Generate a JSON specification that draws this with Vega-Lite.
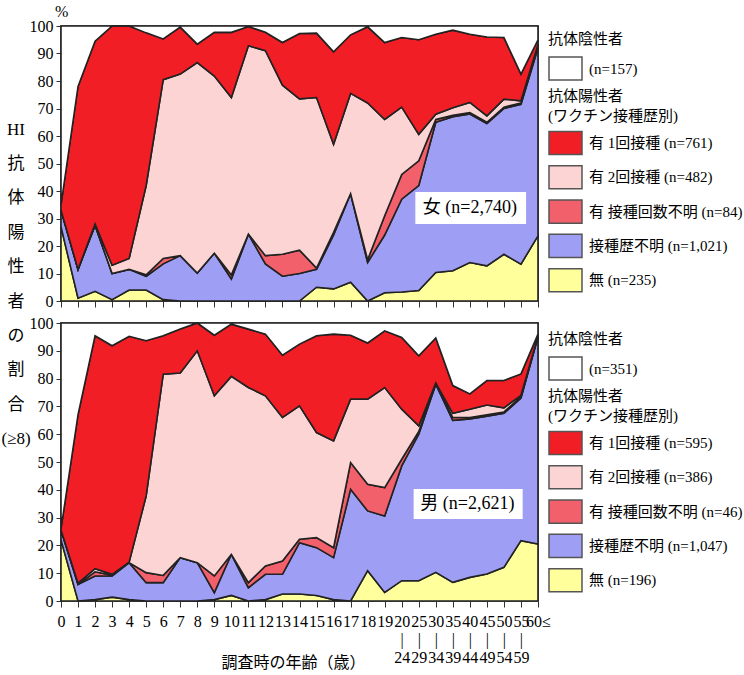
{
  "$schema": "https://vega.github.io/schema/vega-lite/v6.json",
  "autosize": {"type": "pad"},
  "padding": {"left": 0, "top": 3, "right": 0, "bottom": 0},
  "bounds": "flush",
  "spacing": 22,
  "config": {
    "font": "'Liberation Serif', 'Noto Sans CJK JP', serif",
    "view": {"stroke": "#333", "strokeWidth": 1.5},
    "axis": {"labelFont": "'Liberation Serif', 'Noto Sans CJK JP', serif", "titleFont": "'Liberation Serif', 'Noto Sans CJK JP', serif", "labelColor": "#000", "titleColor": "#000", "tickColor": "#333", "grid": false, "domain": false, "titleFontWeight": "normal", "labelFontSize": 16, "labelOverlap": false, "labelFlush": false, "labelBound": false},
    "legend": {"labelFont": "'Liberation Serif', 'Noto Sans CJK JP', serif", "titleFont": "'Liberation Serif', 'Noto Sans CJK JP', serif", "labelColor": "#000", "titleColor": "#000"},
    "title": {"font": "'Liberation Serif', 'Noto Sans CJK JP', serif", "fontWeight": "normal", "color": "#000"}
  },
  "resolve": {"scale": {"color": "independent", "fill": "independent"}, "legend": {"color": "independent", "fill": "independent"}},
  "datasets": {
    "hi": [
      {"s":"F","i":0,"k1_none":27,"k2_unk":6,"k3_vu":0,"k4_v2":0,"k5_v1":2,"k6_neg":65},
      {"s":"F","i":1,"k1_none":1,"k2_unk":10.5,"k3_vu":0,"k4_v2":0,"k5_v1":66.5,"k6_neg":22},
      {"s":"F","i":2,"k1_none":3.5,"k2_unk":24,"k3_vu":0,"k4_v2":0.5,"k5_v1":66.5,"k6_neg":5.5},
      {"s":"F","i":3,"k1_none":0.5,"k2_unk":9.5,"k3_vu":0,"k4_v2":3,"k5_v1":87,"k6_neg":0},
      {"s":"F","i":4,"k1_none":4,"k2_unk":7.5,"k3_vu":0,"k4_v2":4,"k5_v1":84.5,"k6_neg":0},
      {"s":"F","i":5,"k1_none":4,"k2_unk":5,"k3_vu":0.5,"k4_v2":32.5,"k5_v1":55.5,"k6_neg":2.5},
      {"s":"F","i":6,"k1_none":0.5,"k2_unk":13,"k3_vu":2,"k4_v2":65,"k5_v1":14.8,"k6_neg":4.7},
      {"s":"F","i":7,"k1_none":0,"k2_unk":16.5,"k3_vu":0,"k4_v2":66,"k5_v1":17.1,"k6_neg":0.4},
      {"s":"F","i":8,"k1_none":0,"k2_unk":10.2,"k3_vu":0,"k4_v2":76.5,"k5_v1":6.7,"k6_neg":6.6},
      {"s":"F","i":9,"k1_none":0,"k2_unk":17.4,"k3_vu":0,"k4_v2":64.4,"k5_v1":15.9,"k6_neg":2.3},
      {"s":"F","i":10,"k1_none":0,"k2_unk":8,"k3_vu":1.5,"k4_v2":64.5,"k5_v1":23.7,"k6_neg":2.3},
      {"s":"F","i":11,"k1_none":0,"k2_unk":24.3,"k3_vu":0,"k4_v2":68.5,"k5_v1":7,"k6_neg":0.2},
      {"s":"F","i":12,"k1_none":0,"k2_unk":13.5,"k3_vu":3,"k4_v2":74.5,"k5_v1":6.7,"k6_neg":2.3},
      {"s":"F","i":13,"k1_none":0,"k2_unk":9,"k3_vu":8,"k4_v2":61.5,"k5_v1":15.5,"k6_neg":6},
      {"s":"F","i":14,"k1_none":0,"k2_unk":10,"k3_vu":8.5,"k4_v2":55,"k5_v1":23.8,"k6_neg":2.7},
      {"s":"F","i":15,"k1_none":5,"k2_unk":6.5,"k3_vu":0.5,"k4_v2":62,"k5_v1":23.4,"k6_neg":2.6},
      {"s":"F","i":16,"k1_none":4.4,"k2_unk":19.6,"k3_vu":1,"k4_v2":32,"k5_v1":33.6,"k6_neg":9.4},
      {"s":"F","i":17,"k1_none":6.8,"k2_unk":32.2,"k3_vu":0,"k4_v2":36.5,"k5_v1":21.3,"k6_neg":3.2},
      {"s":"F","i":18,"k1_none":0,"k2_unk":14,"k3_vu":1,"k4_v2":57,"k5_v1":27.7,"k6_neg":0.3},
      {"s":"F","i":19,"k1_none":3,"k2_unk":21,"k3_vu":7,"k4_v2":35,"k5_v1":28,"k6_neg":6},
      {"s":"F","i":20,"k1_none":3.3,"k2_unk":33.7,"k3_vu":9,"k4_v2":24.5,"k5_v1":25.3,"k6_neg":4.2},
      {"s":"F","i":21,"k1_none":3.8,"k2_unk":38.2,"k3_vu":9,"k4_v2":9.6,"k5_v1":34.4,"k6_neg":5},
      {"s":"F","i":22,"k1_none":10.4,"k2_unk":54.6,"k3_vu":1,"k4_v2":1.9,"k5_v1":29.1,"k6_neg":3},
      {"s":"F","i":23,"k1_none":11,"k2_unk":56,"k3_vu":0.5,"k4_v2":2.8,"k5_v1":28.2,"k6_neg":1.5},
      {"s":"F","i":24,"k1_none":14,"k2_unk":54,"k3_vu":0.5,"k4_v2":3.7,"k5_v1":24.8,"k6_neg":3},
      {"s":"F","i":25,"k1_none":12.8,"k2_unk":51.7,"k3_vu":0.5,"k4_v2":2.3,"k5_v1":28.7,"k6_neg":4},
      {"s":"F","i":26,"k1_none":17,"k2_unk":53,"k3_vu":0.5,"k4_v2":2.9,"k5_v1":22.4,"k6_neg":4.2},
      {"s":"F","i":27,"k1_none":13.4,"k2_unk":58.1,"k3_vu":0.5,"k4_v2":0.8,"k5_v1":9.7,"k6_neg":17.5},
      {"s":"F","i":28,"k1_none":23.7,"k2_unk":68.3,"k3_vu":0.5,"k4_v2":0.8,"k5_v1":1.7,"k6_neg":5},
      {"s":"M","i":0,"k1_none":22,"k2_unk":3.5,"k3_vu":0,"k4_v2":0,"k5_v1":0.5,"k6_neg":74},
      {"s":"M","i":1,"k1_none":0,"k2_unk":6,"k3_vu":0,"k4_v2":0.4,"k5_v1":60.6,"k6_neg":33},
      {"s":"M","i":2,"k1_none":0.5,"k2_unk":8.5,"k3_vu":1.5,"k4_v2":1.1,"k5_v1":83.8,"k6_neg":4.6},
      {"s":"M","i":3,"k1_none":1.4,"k2_unk":7.6,"k3_vu":0.3,"k4_v2":0.3,"k5_v1":82.2,"k6_neg":8.2},
      {"s":"M","i":4,"k1_none":0.5,"k2_unk":13.3,"k3_vu":0,"k4_v2":0.2,"k5_v1":81.2,"k6_neg":4.8},
      {"s":"M","i":5,"k1_none":0,"k2_unk":6.6,"k3_vu":3.6,"k4_v2":27.6,"k5_v1":55.8,"k6_neg":6.4},
      {"s":"M","i":6,"k1_none":0,"k2_unk":6.6,"k3_vu":2.6,"k4_v2":72.4,"k5_v1":13.8,"k6_neg":4.6},
      {"s":"M","i":7,"k1_none":0,"k2_unk":15.6,"k3_vu":0,"k4_v2":66.4,"k5_v1":15.8,"k6_neg":2.2},
      {"s":"M","i":8,"k1_none":0,"k2_unk":13.8,"k3_vu":0,"k4_v2":76.2,"k5_v1":10,"k6_neg":0},
      {"s":"M","i":9,"k1_none":0.5,"k2_unk":2.5,"k3_vu":6,"k4_v2":64.8,"k5_v1":21.8,"k6_neg":4.4},
      {"s":"M","i":10,"k1_none":2,"k2_unk":14.8,"k3_vu":0,"k4_v2":64,"k5_v1":18.8,"k6_neg":0.4},
      {"s":"M","i":11,"k1_none":0,"k2_unk":4.8,"k3_vu":1.8,"k4_v2":70.2,"k5_v1":21,"k6_neg":2.2},
      {"s":"M","i":12,"k1_none":0.5,"k2_unk":9.1,"k3_vu":3,"k4_v2":61.2,"k5_v1":22.2,"k6_neg":4},
      {"s":"M","i":13,"k1_none":2.5,"k2_unk":7.1,"k3_vu":4.8,"k4_v2":51.6,"k5_v1":22.4,"k6_neg":11.6},
      {"s":"M","i":14,"k1_none":2.5,"k2_unk":18.5,"k3_vu":1.2,"k4_v2":48,"k5_v1":22.2,"k6_neg":7.6},
      {"s":"M","i":15,"k1_none":2,"k2_unk":17.2,"k3_vu":3.6,"k4_v2":37.8,"k5_v1":34.8,"k6_neg":4.6},
      {"s":"M","i":16,"k1_none":0.5,"k2_unk":15.1,"k3_vu":3.6,"k4_v2":38.4,"k5_v1":38.4,"k6_neg":4},
      {"s":"M","i":17,"k1_none":0,"k2_unk":40.2,"k3_vu":9.6,"k4_v2":22.8,"k5_v1":23,"k6_neg":4.4},
      {"s":"M","i":18,"k1_none":10.9,"k2_unk":21.5,"k3_vu":9.6,"k4_v2":30.6,"k5_v1":20.2,"k6_neg":7.2},
      {"s":"M","i":19,"k1_none":3.1,"k2_unk":27.5,"k3_vu":10.2,"k4_v2":36,"k5_v1":20.4,"k6_neg":2.8},
      {"s":"M","i":20,"k1_none":7.3,"k2_unk":41.3,"k3_vu":2.4,"k4_v2":18,"k5_v1":25.8,"k6_neg":5.2},
      {"s":"M","i":21,"k1_none":7.3,"k2_unk":52.7,"k3_vu":1,"k4_v2":2,"k5_v1":25.2,"k6_neg":11.8},
      {"s":"M","i":22,"k1_none":10.3,"k2_unk":67.7,"k3_vu":0,"k4_v2":0.5,"k5_v1":16.1,"k6_neg":5.4},
      {"s":"M","i":23,"k1_none":6.7,"k2_unk":58.3,"k3_vu":1,"k4_v2":1.5,"k5_v1":10,"k6_neg":22.5},
      {"s":"M","i":24,"k1_none":8.5,"k2_unk":57,"k3_vu":0.5,"k4_v2":3,"k5_v1":5.5,"k6_neg":25.5},
      {"s":"M","i":25,"k1_none":9.7,"k2_unk":56.8,"k3_vu":0.5,"k4_v2":3.5,"k5_v1":8.8,"k6_neg":20.7},
      {"s":"M","i":26,"k1_none":12.1,"k2_unk":55.4,"k3_vu":0.5,"k4_v2":1.5,"k5_v1":9.8,"k6_neg":20.7},
      {"s":"M","i":27,"k1_none":21.7,"k2_unk":51.3,"k3_vu":0.5,"k4_v2":0.5,"k5_v1":7.7,"k6_neg":18.3},
      {"s":"M","i":28,"k1_none":20.5,"k2_unk":74.5,"k3_vu":0,"k4_v2":0.2,"k5_v1":0.8,"k6_neg":4}
    ]
  },
  "vconcat": [
    {
      "width": 477,
      "height": 275,
      "title": {"text": "%", "anchor": "start", "frame": "group", "dx": -6, "offset": -2, "fontSize": 16},
      "layer": [
        {
          "data": {"name": "hi"},
          "transform": [
            {"filter": "datum.s === 'F'"},
            {"fold": ["k1_none", "k2_unk", "k3_vu", "k4_v2", "k5_v1", "k6_neg"], "as": ["key", "value"]}
          ],
          "mark": {"type": "area", "stroke": "#222", "strokeWidth": 1.6, "opacity": 1},
          "encoding": {
            "x": {"field": "i", "type": "quantitative", "scale": {"domain": [0, 28], "nice": false, "zero": false},
                  "axis": {"values": [0,1,2,3,4,5,6,7,8,9,10,11,12,13,14,15,16,17,18,19,20,21,22,23,24,25,26,27,28], "labels": false, "labelOverlap": false, "title": null, "tickSize": 6}},
            "y": {"field": "value", "type": "quantitative", "stack": "zero", "scale": {"domain": [0, 100], "nice": false},
                  "axis": {"values": [0,10,20,30,40,50,60,70,80,90,100], "tickSize": 5, "labelPadding": 3, "labelOverlap": false,
                           "title": ["HI", "抗", "体", "陽", "性", "者", "の", "割", "合", "(≥8)"],
                           "titleAngle": 0, "titleAlign": "center", "titleBaseline": "top", "titleX": -45.5, "titleY": 95, "titleLineHeight": 34.4, "titleFontSize": 17}},
            "fill": {"field": "key", "type": "nominal",
                      "scale": {"domain": ["k5_v1", "k4_v2", "k3_vu", "k2_unk", "k1_none", "k6_neg"],
                                "range": ["#f21e26", "#fdd4d4", "#f2606c", "#9e9ef4", "#ffff9c", "#ffffff"]},
                      "legend": {
                        "orient": "none", "legendX": 487, "legendY": 63,
                        "values": ["k5_v1", "k4_v2", "k3_vu", "k2_unk", "k1_none"],
                        "title": ["抗体陽性者", "(ワクチン接種歴別)"], "titleFontSize": 15, "titleFontWeight": "normal", "titlePadding": 2, "titleLineHeight": 19.5,
                        "labelFontSize": 15, "labelLimit": 400, "labelOffset": 6,
                        "symbolType": "M-1,-0.7H1V0.7H-1Z", "symbolSize": 1089, "symbolStrokeColor": "#555", "symbolStrokeWidth": 1.5,
                        "rowPadding": 1.3, "padding": 0,
                        "labelExpr": "datum.value == 'k5_v1' ? '有 1回接種 (n=761)' : datum.value == 'k4_v2' ? '有 2回接種 (n=482)' : datum.value == 'k3_vu' ? '有 接種回数不明 (n=84)' : datum.value == 'k2_unk' ? '接種歴不明 (n=1,021)' : ' 無 (n=235)'"
                      }},
            "order": {"field": "key", "sort": "ascending"}
          }
        },
        {
          "data": {"values": [{}]},
          "mark": {"type": "rect"},
          "encoding": {
            "x": {"datum": 20.8, "type": "quantitative", "axis": {"values": [0,1,2,3,4,5,6,7,8,9,10,11,12,13,14,15,16,17,18,19,20,21,22,23,24,25,26,27,28], "labels": false, "labelOverlap": false, "title": null, "tickSize": 6}},
            "x2": {"datum": 27.3},
            "y": {"datum": 28, "type": "quantitative",
                  "axis": {"values": [0,10,20,30,40,50,60,70,80,90,100], "tickSize": 5, "labelPadding": 3, "labelOverlap": false,
                           "title": ["HI", "抗", "体", "陽", "性", "者", "の", "割", "合", "(≥8)"],
                           "titleAngle": 0, "titleAlign": "center", "titleBaseline": "top", "titleX": -45.5, "titleY": 95, "titleLineHeight": 34.4, "titleFontSize": 17}},
            "y2": {"datum": 39.6},
            "color": {"datum": "neg", "type": "nominal",
                      "scale": {"domain": ["neg"], "range": ["#ffffff"]},
                      "legend": {
                        "orient": "none", "legendX": 487, "legendY": 6,
                        "title": "抗体陰性者", "titleFontSize": 15, "titleFontWeight": "normal", "titlePadding": 4,
                        "labelFontSize": 15, "labelLimit": 400, "labelOffset": 6,
                        "symbolType": "M-1,-0.7H1V0.7H-1Z", "symbolSize": 1089, "symbolStrokeColor": "#555", "symbolStrokeWidth": 1.5,
                        "padding": 0,
                        "labelExpr": "'(n=157)'"
                      }}
          }
        },
        {
          "data": {"values": [{}]},
          "mark": {"type": "text", "text": "女 (n=2,740)", "fontSize": 18, "color": "#000", "font": "'Liberation Serif', 'Noto Sans CJK JP', serif"},
          "encoding": {
            "x": {"datum": 24.0, "type": "quantitative", "axis": {"values": [0,1,2,3,4,5,6,7,8,9,10,11,12,13,14,15,16,17,18,19,20,21,22,23,24,25,26,27,28], "labels": false, "labelOverlap": false, "title": null, "tickSize": 6}},
            "y": {"datum": 33.8, "type": "quantitative",
                  "axis": {"values": [0,10,20,30,40,50,60,70,80,90,100], "tickSize": 5, "labelPadding": 3, "labelOverlap": false,
                           "title": ["HI", "抗", "体", "陽", "性", "者", "の", "割", "合", "(≥8)"],
                           "titleAngle": 0, "titleAlign": "center", "titleBaseline": "top", "titleX": -45.5, "titleY": 95, "titleLineHeight": 34.4, "titleFontSize": 17}}
          }
        }
      ]
    },
    {
      "width": 477,
      "height": 278,
      "layer": [
        {
          "data": {"name": "hi"},
          "transform": [
            {"filter": "datum.s === 'M'"},
            {"fold": ["k1_none", "k2_unk", "k3_vu", "k4_v2", "k5_v1", "k6_neg"], "as": ["key", "value"]}
          ],
          "mark": {"type": "area", "stroke": "#222", "strokeWidth": 1.6, "opacity": 1},
          "encoding": {
            "x": {"field": "i", "type": "quantitative", "scale": {"domain": [0, 28], "nice": false, "zero": false},
                  "axis": {"values": [0,1,2,3,4,5,6,7,8,9,10,11,12,13,14,15,16,17,18,19,20,21,22,23,24,25,26,27,28],
                           "labelExpr": "datum.value < 20 ? format(datum.value, 'd') : datum.value == 28 ? '60≤' : [['20','|','24'],['25','|','29'],['30','|','34'],['35','|','39'],['40','|','44'],['45','|','49'],['50','|','54'],['55','|','59']][datum.value - 20]",
                           "labelOverlap": false, "labelFlush": false, "labelBound": false, "labelLineHeight": 18, "labelPadding": 6,
                           "tickSize": 6,
                           "title": "調査時の年齢（歳）", "titleFontSize": 16, "titleX": 232, "titleY": 61, "titleBaseline": "middle", "titleAlign": "center"}},
            "y": {"field": "value", "type": "quantitative", "stack": "zero", "scale": {"domain": [0, 100], "nice": false},
                  "axis": {"values": [0,10,20,30,40,50,60,70,80,90,100], "tickSize": 5, "labelPadding": 3, "labelOverlap": false, "title": null}},
            "fill": {"field": "key", "type": "nominal",
                      "scale": {"domain": ["k5_v1", "k4_v2", "k3_vu", "k2_unk", "k1_none", "k6_neg"],
                                "range": ["#f21e26", "#fdd4d4", "#f2606c", "#9e9ef4", "#ffff9c", "#ffffff"]},
                      "legend": {
                        "orient": "none", "legendX": 487, "legendY": 66,
                        "values": ["k5_v1", "k4_v2", "k3_vu", "k2_unk", "k1_none"],
                        "title": ["抗体陽性者", "(ワクチン接種歴別)"], "titleFontSize": 15, "titleFontWeight": "normal", "titlePadding": 2, "titleLineHeight": 19.5,
                        "labelFontSize": 15, "labelLimit": 400, "labelOffset": 6,
                        "symbolType": "M-1,-0.7H1V0.7H-1Z", "symbolSize": 1089, "symbolStrokeColor": "#555", "symbolStrokeWidth": 1.5,
                        "rowPadding": 1.3, "padding": 0,
                        "labelExpr": "datum.value == 'k5_v1' ? '有 1回接種 (n=595)' : datum.value == 'k4_v2' ? '有 2回接種 (n=386)' : datum.value == 'k3_vu' ? '有 接種回数不明 (n=46)' : datum.value == 'k2_unk' ? '接種歴不明 (n=1,047)' : ' 無 (n=196)'"
                      }},
            "order": {"field": "key", "sort": "ascending"}
          }
        },
        {
          "data": {"values": [{}]},
          "mark": {"type": "rect"},
          "encoding": {
            "x": {"datum": 20.7, "type": "quantitative",
                  "axis": {"values": [0,1,2,3,4,5,6,7,8,9,10,11,12,13,14,15,16,17,18,19,20,21,22,23,24,25,26,27,28],
                           "labelExpr": "datum.value < 20 ? format(datum.value, 'd') : datum.value == 28 ? '60≤' : [['20','|','24'],['25','|','29'],['30','|','34'],['35','|','39'],['40','|','44'],['45','|','49'],['50','|','54'],['55','|','59']][datum.value - 20]",
                           "labelOverlap": false, "labelFlush": false, "labelBound": false, "labelLineHeight": 18, "labelPadding": 6,
                           "tickSize": 6,
                           "title": "調査時の年齢（歳）", "titleFontSize": 16, "titleX": 232, "titleY": 61, "titleBaseline": "middle", "titleAlign": "center"}},
            "x2": {"datum": 27.1},
            "y": {"datum": 29.5, "type": "quantitative",
                  "axis": {"values": [0,10,20,30,40,50,60,70,80,90,100], "tickSize": 5, "labelPadding": 3, "labelOverlap": false, "title": null}},
            "y2": {"datum": 40.3},
            "color": {"datum": "neg", "type": "nominal",
                      "scale": {"domain": ["neg"], "range": ["#ffffff"]},
                      "legend": {
                        "orient": "none", "legendX": 487, "legendY": 9,
                        "title": "抗体陰性者", "titleFontSize": 15, "titleFontWeight": "normal", "titlePadding": 4,
                        "labelFontSize": 15, "labelLimit": 400, "labelOffset": 6,
                        "symbolType": "M-1,-0.7H1V0.7H-1Z", "symbolSize": 1089, "symbolStrokeColor": "#555", "symbolStrokeWidth": 1.5,
                        "padding": 0,
                        "labelExpr": "'(n=351)'"
                      }}
          }
        },
        {
          "data": {"values": [{}]},
          "mark": {"type": "text", "text": "男 (n=2,621)", "fontSize": 18, "color": "#000", "font": "'Liberation Serif', 'Noto Sans CJK JP', serif"},
          "encoding": {
            "x": {"datum": 23.85, "type": "quantitative",
                  "axis": {"values": [0,1,2,3,4,5,6,7,8,9,10,11,12,13,14,15,16,17,18,19,20,21,22,23,24,25,26,27,28],
                           "labelExpr": "datum.value < 20 ? format(datum.value, 'd') : datum.value == 28 ? '60≤' : [['20','|','24'],['25','|','29'],['30','|','34'],['35','|','39'],['40','|','44'],['45','|','49'],['50','|','54'],['55','|','59']][datum.value - 20]",
                           "labelOverlap": false, "labelFlush": false, "labelBound": false, "labelLineHeight": 18, "labelPadding": 6,
                           "tickSize": 6,
                           "title": "調査時の年齢（歳）", "titleFontSize": 16, "titleX": 232, "titleY": 61, "titleBaseline": "middle", "titleAlign": "center"}},
            "y": {"datum": 34.9, "type": "quantitative",
                  "axis": {"values": [0,10,20,30,40,50,60,70,80,90,100], "tickSize": 5, "labelPadding": 3, "labelOverlap": false, "title": null}}
          }
        }
      ]
    }
  ]
}
